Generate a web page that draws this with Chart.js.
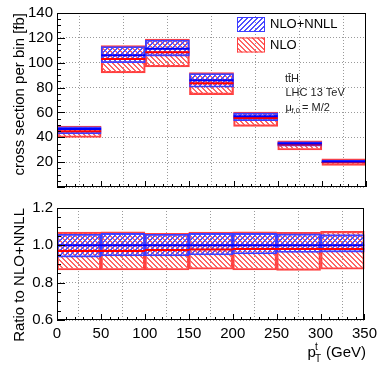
<!DOCTYPE html>
<html>
<head>
<meta charset="utf-8">
<script src="https://cdn.jsdelivr.net/npm/chart.js@4.4.1/dist/chart.umd.min.js"></script>
<style>
  html, body { margin: 0; padding: 0; background: #fff; }
  body { width: 382px; height: 370px; position: relative; overflow: hidden; }
  canvas { position: absolute; left: 0; }
  #xsec { top: 0; }
  #ratio { top: 195px; }
</style>
</head>
<body>
<canvas id="xsec" width="382" height="200"></canvas>
<canvas id="ratio" width="382" height="175"></canvas>
<script>
// pT bins (GeV)
const binEdges = [0, 50, 100, 150, 200, 250, 300, 350];

// top panel, cross section per bin [fb]
const nnllCentral = [46.6, 106.0, 111.3, 85.8, 56.9, 35.1, 20.6];
const nnllLow     = [42.8, 100.0, 105.3, 80.3, 53.3, 32.9, 19.4];
const nnllHigh    = [48.4, 113.0, 118.3, 91.3, 59.6, 36.4, 21.6];
const nloCentral  = [44.8, 103.0, 108.4, 83.4, 55.6, 34.2, 20.0];
const nloLow      = [39.8, 91.8, 96.6, 74.3, 48.8, 29.8, 17.4];
const nloHigh     = [49.1, 113.8, 119.0, 92.1, 60.2, 37.1, 22.6];

// bottom panel, ratio to NLO+NNLL
const ratioNnllCentral = [1, 1, 1, 1, 1, 1, 1];
const ratioNnllLow     = [0.937, 0.943, 0.943, 0.948, 0.954, 0.962, 0.964];
const ratioNnllHigh    = [1.059, 1.064, 1.059, 1.064, 1.064, 1.061, 1.057];
const ratioNloCentral  = [0.970, 0.970, 0.975, 0.978, 0.980, 0.980, 0.980];
const ratioNloLow      = [0.868, 0.868, 0.868, 0.872, 0.868, 0.866, 0.872];
const ratioNloHigh     = [1.071, 1.073, 1.064, 1.071, 1.073, 1.070, 1.075];

const xTicks = [0, 50, 100, 150, 200, 250, 300, 350];
const xsecTicks = [0, 20, 40, 60, 80, 100, 120, 140];
const ratioTicks = [0.6, 0.8, 1.0, 1.2];

Chart.defaults.font.family = "'Liberation Sans', Arial, sans-serif";
Chart.defaults.font.size = 15;
Chart.defaults.color = '#000';

// crisp pixel hatch, 2px wide diagonals every 5px
function hatch(color, forward) {
  const s = 5;
  const c = document.createElement('canvas');
  c.width = c.height = s;
  const g = c.getContext('2d');
  g.fillStyle = color;
  for (let i = 0; i < s; i++) {
    const a = forward ? s - 1 - i : i;
    g.fillRect(i, a, 1, 1);
    g.fillRect(i, (a + 1) % s, 1, 1);
  }
  return g.createPattern(c, 'repeat');
}

const blueHatch = hatch('#5050ff', true);
const redHatch = hatch('#ff6464', false);
const blueEdge = '#3c3cff';
const redEdge = '#ff4040';

function bandData(lo, hi) {
  return lo.map((l, i) => ({ x: (binEdges[i] + binEdges[i + 1]) / 2, y: [l, hi[i]] }));
}
function stepData(c) {
  const d = [];
  c.forEach((v, i) => {
    d.push({ x: binEdges[i], y: v }, { x: binEdges[i + 1], y: v }, { x: binEdges[i + 1], y: null });
  });
  return d;
}

function datasets(nloLo, nloHi, nnllLo, nnllHi, nloC, nnllC) {
  return [
    { type: 'bar', label: 'NLO', data: bandData(nloLo, nloHi), backgroundColor: redHatch,
      borderColor: redEdge, borderWidth: 1.5, borderSkipped: false, grouped: false,
      barPercentage: 1, categoryPercentage: 1, order: 4 },
    { type: 'bar', label: 'NLO+NNLL', data: bandData(nnllLo, nnllHi), backgroundColor: blueHatch,
      borderColor: blueEdge, borderWidth: 1.2, borderSkipped: false, grouped: false,
      barPercentage: 1, categoryPercentage: 1, order: 3 },
    { type: 'line', label: 'NLO central', data: stepData(nloC), borderColor: '#ff0000',
      borderWidth: 2, pointRadius: 0, order: 2 },
    { type: 'line', label: 'NLO+NNLL central', data: stepData(nnllC), borderColor: '#0000ff',
      borderWidth: 2, pointRadius: 0, order: 1 }
  ];
}

// ROOT-like frame with inward ticks
const rootFrame = {
  id: 'rootFrame',
  afterDatasetsDraw(chart, args, opts) {
    const { ctx, chartArea: a, scales } = chart;
    ctx.save();
    ctx.strokeStyle = '#000';
    ctx.lineWidth = 1;
    ctx.beginPath();
    const y = scales.y, x = scales.x;
    const ny = Math.round((y.max - y.min) / opts.yMinor);
    for (let i = 0; i <= ny; i++) {
      const v = y.min + i * opts.yMinor;
      const py = Math.round(y.getPixelForValue(v)) + 0.5;
      const major = Math.abs(v / opts.yMajor - Math.round(v / opts.yMajor)) < 1e-6;
      ctx.moveTo(a.left, py); ctx.lineTo(a.left + (major ? 8 : 4), py);
    }
    const nx = Math.round((x.max - x.min) / opts.xMinor);
    for (let i = 0; i <= nx; i++) {
      const v = x.min + i * opts.xMinor;
      const px = Math.round(x.getPixelForValue(v)) + 0.5;
      const major = Math.abs(v / opts.xMajor - Math.round(v / opts.xMajor)) < 1e-6;
      ctx.moveTo(px, a.bottom); ctx.lineTo(px, a.bottom - (major ? 6 : 3));
    }
    ctx.stroke();
    ctx.strokeRect(Math.round(a.left) + 0.5, Math.round(a.top) + 0.5,
      Math.round(a.right - a.left) - 1, Math.round(a.bottom - a.top) - 1);
    ctx.restore();
  }
};

// legend + labels in the top panel
const topLabels = {
  id: 'topLabels',
  afterDraw(chart) {
    const { ctx } = chart;
    const ds = chart.data.datasets;
    ctx.save();
    const entries = [[ds[1], 17, 'NLO+NNLL'], [ds[0], 37.5, 'NLO']];
    entries.forEach(([d, top, text]) => {
      ctx.fillStyle = d.backgroundColor;
      ctx.fillRect(237, top, 28, 15);
      ctx.strokeStyle = d.borderColor;
      ctx.lineWidth = 1;
      ctx.strokeRect(237.5, top + 0.5, 27, 14);
      ctx.fillStyle = '#000';
      ctx.font = "13px 'Liberation Sans', Arial, sans-serif";
      ctx.textBaseline = 'middle';
      ctx.textAlign = 'left';
      ctx.fillText(text, 270, top + 7.5);
    });
    ctx.textBaseline = 'alphabetic';
    ctx.fillStyle = '#222';
    ctx.font = "11px 'Liberation Sans', Arial, sans-serif";
    ctx.fillText('tt\u0304H', 285, 82);
    ctx.fillText('LHC 13 TeV', 285.5, 95.5);
    ctx.fillText('\u03bc', 285.5, 110.5);
    ctx.font = "7.5px 'Liberation Sans', Arial, sans-serif";
    ctx.fillText('f,0', 291.5, 113);
    ctx.font = "11px 'Liberation Sans', Arial, sans-serif";
    ctx.fillText('= M/2', 302, 110.5);
    ctx.restore();
  }
};

// x axis title with sub/superscript
const xTitle = {
  id: 'xTitle',
  afterDraw(chart) {
    const { ctx } = chart;
    const base = 357 - 195;
    ctx.save();
    ctx.fillStyle = '#000';
    ctx.textBaseline = 'alphabetic';
    ctx.font = "15px 'Liberation Sans', Arial, sans-serif";
    ctx.textAlign = 'right';
    ctx.fillText('(GeV)', 366, base);
    ctx.textAlign = 'left';
    ctx.fillText('p', 307.5, base);
    ctx.font = "10px 'Liberation Sans', Arial, sans-serif";
    ctx.fillText('t', 315, base - 7);
    ctx.fillText('T', 315, base + 5);
    ctx.restore();
  }
};

const gridStyle = { color: '#9a9a9a', drawTicks: false, lineWidth: 1 };
const borderStyle = { display: false, dash: [1, 2] };

new Chart(document.getElementById('xsec'), {
  type: 'bar',
  data: { datasets: datasets(nloLow, nloHigh, nnllLow, nnllHigh, nloCentral, nnllCentral) },
  options: {
    responsive: false,
    animation: false,
    layout: { padding: { left: 0, top: 10, right: 16, bottom: 3 } },
    plugins: {
      legend: { display: false },
      tooltip: { enabled: false },
      rootFrame: { yMajor: 20, yMinor: 5, xMajor: 50, xMinor: 10 }
    },
    scales: {
      x: {
        type: 'linear', min: xTicks[0], max: xTicks[xTicks.length - 1], offset: false,
        afterBuildTicks: s => { s.ticks = xTicks.map(v => ({ value: v })); },
        ticks: { display: false },
        grid: gridStyle, border: borderStyle,
        afterFit: s => { s.height = 0; }
      },
      y: {
        min: xsecTicks[0], max: xsecTicks[xsecTicks.length - 1],
        afterBuildTicks: s => { s.ticks = xsecTicks.map(v => ({ value: v })); },
        ticks: { padding: 4, callback: v => (v === 0 ? '' : v) },
        grid: gridStyle, border: borderStyle,
        title: { display: true, text: 'cross section per bin [fb]', align: 'end',
                 padding: { top: 11, bottom: 0 }, font: { size: 15 } },
        afterFit: s => { s.width = 57; }
      }
    }
  },
  plugins: [rootFrame, topLabels]
});

new Chart(document.getElementById('ratio'), {
  type: 'bar',
  data: { datasets: datasets(ratioNloLow, ratioNloHigh, ratioNnllLow, ratioNnllHigh, ratioNloCentral, ratioNnllCentral) },
  options: {
    responsive: false,
    animation: false,
    layout: { padding: { left: 0, top: 13, right: 16, bottom: 0 } },
    plugins: {
      legend: { display: false },
      tooltip: { enabled: false },
      rootFrame: { yMajor: 0.2, yMinor: 0.05, xMajor: 50, xMinor: 10 }
    },
    scales: {
      x: {
        type: 'linear', min: xTicks[0], max: xTicks[xTicks.length - 1], offset: false,
        afterBuildTicks: s => { s.ticks = xTicks.map(v => ({ value: v })); },
        ticks: { padding: 5, maxRotation: 0, autoSkip: false },
        grid: gridStyle, border: borderStyle,
        afterFit: s => { s.height = 50; }
      },
      y: {
        min: ratioTicks[0], max: ratioTicks[ratioTicks.length - 1],
        afterBuildTicks: s => { s.ticks = ratioTicks.map(v => ({ value: v })); },
        ticks: { padding: 4, callback: v => Number(v).toFixed(1) },
        grid: gridStyle, border: borderStyle,
        title: { display: true, text: 'Ratio to NLO+NNLL', align: 'end',
                 padding: { top: 11, bottom: 0 }, font: { size: 15 } },
        afterFit: s => { s.width = 57; }
      }
    }
  },
  plugins: [rootFrame, xTitle]
});
</script>
</body>
</html>
